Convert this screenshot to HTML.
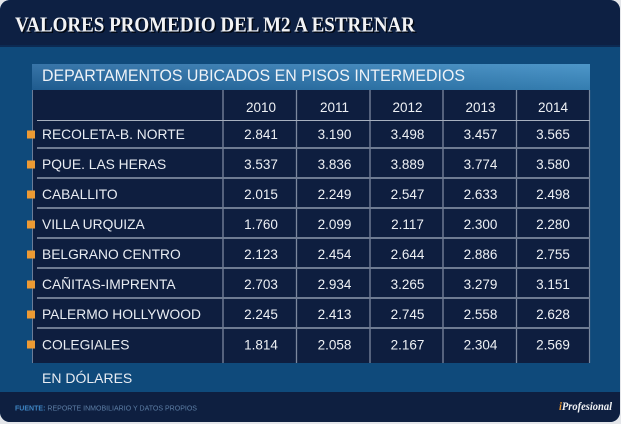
<!DOCTYPE html>
<html>
<head>
<meta charset="utf-8">
<style>
  html,body{margin:0;padding:0;background:#e4e6ea;}
  svg{display:block;}
  .lbl{font-family:"Liberation Sans",Arial,sans-serif;font-size:13.8px;fill:#e9edf3;}
  .num{font-family:"Liberation Sans",Arial,sans-serif;font-size:13.5px;fill:#eef1f5;text-anchor:middle;}
</style>
</head>
<body>
<svg width="621" height="424" viewBox="0 0 621 424" xmlns="http://www.w3.org/2000/svg">
  <defs>
    <clipPath id="card"><rect x="0" y="0" width="620" height="422" rx="10" ry="10"/></clipPath>
    <linearGradient id="band" x1="0" y1="0" x2="1" y2="0">
      <stop offset="0" stop-color="#22659e"/>
      <stop offset="1" stop-color="#3a8bc3"/>
    </linearGradient>
    <linearGradient id="bandV" x1="0" y1="0" x2="0" y2="1">
      <stop offset="0" stop-color="#ffffff" stop-opacity="0.10"/>
      <stop offset="1" stop-color="#000000" stop-opacity="0.10"/>
    </linearGradient>
  </defs>
  <rect x="0" y="0" width="621" height="424" fill="#e4e6ea"/>
  <g clip-path="url(#card)">
    <rect x="0" y="0" width="621" height="424" fill="#0f4a7b"/>
    <rect x="0" y="0" width="621" height="47" fill="#0d2043"/>
    <rect x="0" y="45" width="621" height="2" fill="#0c2a52"/>
    <rect x="0" y="392" width="621" height="32" fill="#0e1f40"/>
  </g>

  <!-- Title -->
  <text x="16.5" y="33.2" font-family="'Liberation Serif',serif" font-weight="bold" font-size="21" fill="#000" fill-opacity="0.7" textLength="400" lengthAdjust="spacingAndGlyphs">VALORES PROMEDIO DEL M2 A ESTRENAR</text>
  <text x="15" y="31.7" font-family="'Liberation Serif',serif" font-weight="bold" font-size="21" fill="#f2f3f5" textLength="400" lengthAdjust="spacingAndGlyphs">VALORES PROMEDIO DEL M2 A ESTRENAR</text>

  <!-- Subtitle band -->
  <rect x="32" y="64" width="558" height="26" fill="url(#band)"/>
  <rect x="32" y="64" width="558" height="26" fill="url(#bandV)"/>
  <text x="42" y="81" font-family="'Liberation Sans',Arial,sans-serif" font-size="16.5" fill="#eef2f7" textLength="423" lengthAdjust="spacingAndGlyphs">DEPARTAMENTOS UBICADOS EN PISOS INTERMEDIOS</text>

  <!-- Table body -->
  <rect x="32" y="90" width="558" height="273" fill="#0e1e3f"/>
  <line x1="32.5" y1="90" x2="32.5" y2="363" stroke="#6a7c98" stroke-width="1"/>
  <line x1="589.5" y1="90" x2="589.5" y2="363" stroke="#7a889e" stroke-width="1.2"/>
  <g stroke="#7c889e" stroke-width="1.3">
    <line x1="223" y1="90" x2="223" y2="363"/>
    <line x1="296.5" y1="90" x2="296.5" y2="363"/>
    <line x1="370" y1="90" x2="370" y2="363"/>
    <line x1="443" y1="90" x2="443" y2="363"/>
    <line x1="516.5" y1="90" x2="516.5" y2="363"/>
  </g>
  <line x1="37" y1="120.5" x2="590" y2="120.5" stroke="#a7b0bf" stroke-width="1"/>
  <g stroke="#6e7b92" stroke-width="2">
    <line x1="37" y1="148" x2="590" y2="148"/>
    <line x1="37" y1="178" x2="590" y2="178"/>
    <line x1="37" y1="208" x2="590" y2="208"/>
    <line x1="37" y1="238" x2="590" y2="238"/>
    <line x1="37" y1="268" x2="590" y2="268"/>
    <line x1="37" y1="298" x2="590" y2="298"/>
    <line x1="37" y1="328" x2="590" y2="328"/>
  </g>

  <!-- Header years -->
  <text class="num" x="261" y="112">2010</text>
  <text class="num" x="334.5" y="112">2011</text>
  <text class="num" x="407.5" y="112">2012</text>
  <text class="num" x="480.5" y="112">2013</text>
  <text class="num" x="553" y="112">2014</text>

  <!-- Orange bullets -->
  <g fill="#ee9a33">
    <rect x="27" y="130.5" width="8" height="8"/>
    <rect x="27" y="160.5" width="8" height="8"/>
    <rect x="27" y="190.5" width="8" height="8"/>
    <rect x="27" y="220.5" width="8" height="8"/>
    <rect x="27" y="250.5" width="8" height="8"/>
    <rect x="27" y="280.5" width="8" height="8"/>
    <rect x="27" y="310.5" width="8" height="8"/>
    <rect x="27" y="340.5" width="8" height="8"/>
  </g>

  <!-- Rows -->
  <text class="lbl" x="42" y="139">RECOLETA-B. NORTE</text>
  <text class="num" x="261" y="139">2.841</text><text class="num" x="334.5" y="139">3.190</text><text class="num" x="407.5" y="139">3.498</text><text class="num" x="480.5" y="139">3.457</text><text class="num" x="553" y="139">3.565</text>

  <text class="lbl" x="42" y="169">PQUE. LAS HERAS</text>
  <text class="num" x="261" y="169">3.537</text><text class="num" x="334.5" y="169">3.836</text><text class="num" x="407.5" y="169">3.889</text><text class="num" x="480.5" y="169">3.774</text><text class="num" x="553" y="169">3.580</text>

  <text class="lbl" x="42" y="199">CABALLITO</text>
  <text class="num" x="261" y="199">2.015</text><text class="num" x="334.5" y="199">2.249</text><text class="num" x="407.5" y="199">2.547</text><text class="num" x="480.5" y="199">2.633</text><text class="num" x="553" y="199">2.498</text>

  <text class="lbl" x="42" y="229">VILLA URQUIZA</text>
  <text class="num" x="261" y="229">1.760</text><text class="num" x="334.5" y="229">2.099</text><text class="num" x="407.5" y="229">2.117</text><text class="num" x="480.5" y="229">2.300</text><text class="num" x="553" y="229">2.280</text>

  <text class="lbl" x="42" y="259">BELGRANO CENTRO</text>
  <text class="num" x="261" y="259">2.123</text><text class="num" x="334.5" y="259">2.454</text><text class="num" x="407.5" y="259">2.644</text><text class="num" x="480.5" y="259">2.886</text><text class="num" x="553" y="259">2.755</text>

  <text class="lbl" x="42" y="289">CAÑITAS-IMPRENTA</text>
  <text class="num" x="261" y="289">2.703</text><text class="num" x="334.5" y="289">2.934</text><text class="num" x="407.5" y="289">3.265</text><text class="num" x="480.5" y="289">3.279</text><text class="num" x="553" y="289">3.151</text>

  <text class="lbl" x="42" y="319">PALERMO HOLLYWOOD</text>
  <text class="num" x="261" y="319">2.245</text><text class="num" x="334.5" y="319">2.413</text><text class="num" x="407.5" y="319">2.745</text><text class="num" x="480.5" y="319">2.558</text><text class="num" x="553" y="319">2.628</text>

  <text class="lbl" x="42" y="349.5">COLEGIALES</text>
  <text class="num" x="261" y="349.5">1.814</text><text class="num" x="334.5" y="349.5">2.058</text><text class="num" x="407.5" y="349.5">2.167</text><text class="num" x="480.5" y="349.5">2.304</text><text class="num" x="553" y="349.5">2.569</text>

  <!-- EN DOLARES -->
  <text x="42" y="383" font-family="'Liberation Sans',Arial,sans-serif" font-size="14" fill="#e9edf3">EN DÓLARES</text>

  <!-- Footer -->
  <text x="15" y="410.3" font-family="'Liberation Sans',Arial,sans-serif" font-size="7" textLength="182" lengthAdjust="spacingAndGlyphs"><tspan fill="#3f86c4" font-weight="bold">FUENTE:</tspan><tspan fill="#5e7fa6"> REPORTE INMOBILIARIO Y DATOS PROPIOS</tspan></text>
  <text x="559" y="410" font-family="'Liberation Serif',serif" font-style="italic" font-weight="bold" font-size="12" fill="#f2f3f5" textLength="53" lengthAdjust="spacingAndGlyphs"><tspan fill="#ee9a33">i</tspan>Profesional</text>
</svg>
</body>
</html>
